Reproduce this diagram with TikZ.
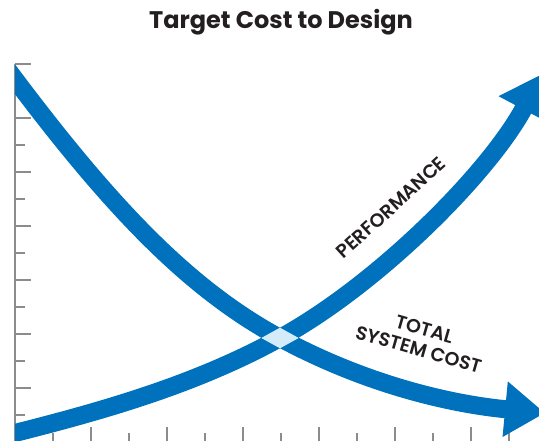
\documentclass[tikz,border=0pt]{standalone}
\usepackage{fontspec}
\usetikzlibrary{arrows.meta}
\newfontfamily\titlefont{Poppins Bold}
\newfontfamily\labelfont{Poppins SemiBold}
\definecolor{bandblue}{HTML}{0071BC}
\definecolor{crossblue}{HTML}{D4ECF9}
\definecolor{axisgray}{HTML}{8C8C8C}
\definecolor{textdark}{HTML}{231F20}
\begin{document}
\begin{tikzpicture}[x=1pt,y=-1pt,
  band/.style={line width=18pt, draw=bandblue},
  bandtip/.style={-{Triangle[width=53pt,length=40pt]}},
  tickline/.style={draw=axisgray, line width=1.2pt},
  axisline/.style={draw=axisgray, line width=1.8pt},
  lbl/.style={font=\labelfont\fontsize{19}{21}\selectfont, text=textdark, inner sep=0pt}]
\useasboundingbox (0,0) rectangle (539,441);
\clip (0,0) rectangle (539,441);
% axes
\coordinate (axTop) at (15,64);
\coordinate (axBot) at (15,445);
\draw[axisline] (axTop) -- (axBot);
\foreach \k in {0,2,...,14} \draw[tickline] (15,{64+27*\k}) -- (31,{64+27*\k});
\foreach \k in {1,3,...,13} \draw[tickline] (15,{64+27*\k}) -- (25,{64+27*\k});
\foreach \k in {2,4,...,12} \draw[tickline] ({15+38*\k},427) -- ({15+38*\k},443);
\foreach \k in {1,3,...,13} \draw[tickline] ({15+38*\k},433) -- ({15+38*\k},443);
% curves
\coordinate (costStart) at (0,59.25);
\coordinate (perfStart) at (0,436.75);
\coordinate (cross) at (280,338);
\coordinate (costTip) at (545,413);
\coordinate (perfTip) at (542,74);
\begin{scope}
\clip (15,0) rectangle (560,441);
\draw[band, bandtip] (costStart) .. controls (105,201) and (185,286.7) .. (cross)
  .. controls (370,386.6) and (455.4,404.5) .. (costTip);
\draw[band, bandtip] (perfStart) .. controls (95,413) and (192,386.6) .. (cross)
  .. controls (380,283) and (490.4,171.1) .. (perfTip);
\end{scope}
\fill[crossblue] (261.3,338) -- (280,327.7) -- (298.7,338) -- (280,348.3) -- cycle;
% texts
\node[font=\titlefont\fontsize{24}{28}\selectfont, text=textdark, anchor=base] (title) at (281,29) {Target Cost to Design};
\node[lbl, rotate=42.3] (perf) at (391,207.5) {PERFORMANCE};
\node[lbl, rotate=-16, align=center] (tsc) at (421.5,339.5) {TOTAL\\SYSTEM COST};
\end{tikzpicture}
\end{document}
